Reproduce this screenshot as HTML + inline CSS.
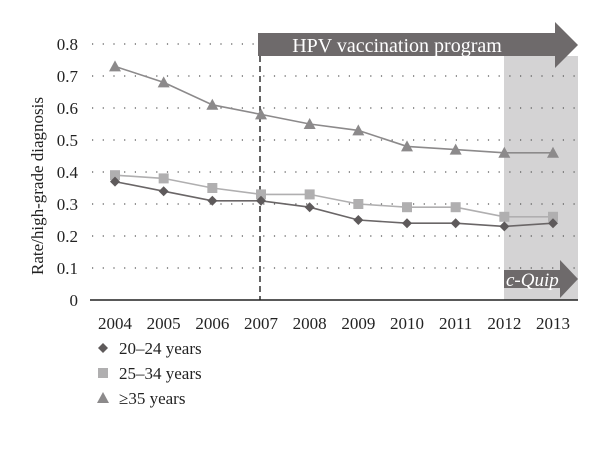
<!DOCTYPE html>
<html><head><meta charset="utf-8"><style>
body{margin:0;background:#fff;}
svg text{font-family:"Liberation Serif",serif;}
</style></head><body>
<svg width="600" height="449" id="c">
<rect x="504" y="56" width="74" height="244" fill="#d4d3d4"/>
<g id="grid"></g>
<line x1="260" y1="36" x2="260" y2="300" stroke="#111" stroke-width="1.3" stroke-dasharray="6,4"/>
<polygon points="258,33 555,33 555,22 578,45 555,68 555,56 258,56" fill="#6e6a6b"/>
<text x="397" y="52" fill="#fff" font-size="20" text-anchor="middle">HPV vaccination program</text>
<polygon points="504,270 560,270 560,260 578,279 560,298 560,288 504,288" fill="#6e6a6b"/>
<text x="506" y="286" fill="#fff" font-size="19" font-style="italic">c-Quip</text>
<line x1="90" y1="300" x2="578" y2="300" stroke="#222" stroke-width="1.5"/>
<g id="axes"></g>
<g id="series"></g>
<text transform="translate(43,186) rotate(-90)" font-size="17" text-anchor="middle" fill="#222">Rate/high-grade diagnosis</text>
<g id="legend"></g>
</svg>
<script>
const years=["2004","2005","2006","2007","2008","2009","2010","2011","2012","2013"];
const s2024=[0.37,0.34,0.31,0.31,0.29,0.25,0.24,0.24,0.23,0.24];
const s2534=[0.39,0.38,0.35,0.33,0.33,0.30,0.29,0.29,0.26,0.26];
const s35=[0.73,0.68,0.61,0.58,0.55,0.53,0.48,0.47,0.46,0.46];
const yTicks=[0,0.1,0.2,0.3,0.4,0.5,0.6,0.7,0.8];
const names=["20–24 years","25–34 years","≥35 years"];
const NS="http://www.w3.org/2000/svg";
function X(i){return 115+i*(553-115)/(years.length-1);}
function Y(v){return 300-v*320;}
function mk(t,a,p){const e=document.createElementNS(NS,t);for(const k in a)e.setAttribute(k,a[k]);p.appendChild(e);return e;}
const grid=document.getElementById('grid'),axes=document.getElementById('axes'),ser=document.getElementById('series'),leg=document.getElementById('legend');
yTicks.forEach(v=>{
 if(v>0){const l=mk('line',{x1:92,x2:578,y1:Y(v),y2:Y(v),stroke:'#555','stroke-width':1.2,'stroke-dasharray':'1.2,9.5'},grid);
 
 }
 const t=mk('text',{x:78,y:Y(v)+6,'font-size':17,'text-anchor':'end',fill:'#222'},axes);t.textContent=v===0?'0':v.toFixed(1);
 
 
});
years.forEach((y,i)=>{const t=mk('text',{x:X(i),y:329,'font-size':17,'text-anchor':'middle',fill:'#222'},axes);t.textContent=y;
 
 });
function marker(kind,x,y,col,p){
 if(kind==='d')return mk('polygon',{points:`${x},${y-5} ${x+5},${y} ${x},${y+5} ${x-5},${y}`,fill:col},p);
 if(kind==='s')return mk('rect',{x:x-5,y:y-5,width:10,height:10,fill:col},p);
 return mk('polygon',{points:`${x},${y-6} ${x+6},${y+5} ${x-6},${y+5}`,fill:col},p);
}
const defs=[[s35,'t','#8c8a8b','#8c8a8b'],[s2534,'s','#b0afb0','#b0afb0'],[s2024,'d','#5e5a5b','#6a6667']];
defs.forEach(([d,k,col,lc],si)=>{
 const pl=mk('polyline',{points:d.map((v,i)=>X(i)+','+Y(v)).join(' '),fill:'none',stroke:lc,'stroke-width':1.6},ser);
 
 
 d.forEach((v,i)=>{const m=marker(k,X(i),Y(v),col,ser);
 
 });
});
[['d','#5e5a5b'],['s','#b0afb0'],['t','#8c8a8b']].forEach(([k,c],i)=>{
 const y=348+i*25;
 const m=marker(k,103,y,c,leg);
 
 
 const t=mk('text',{x:119,y:y+6,'font-size':17,fill:'#222'},leg);t.textContent=names[i];
 
 
});
</script>
</body></html>
